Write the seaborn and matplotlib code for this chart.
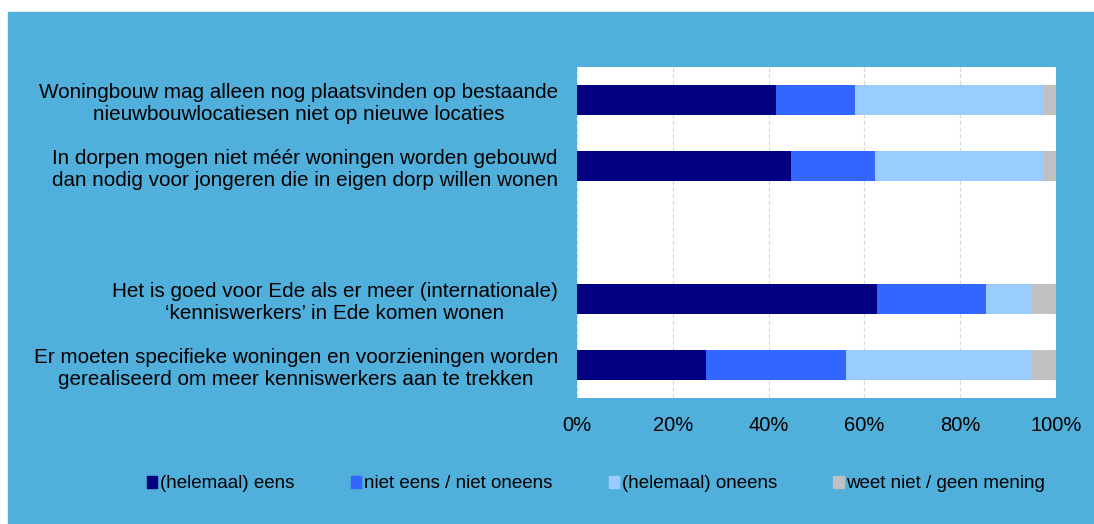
import matplotlib.pyplot as plt
import matplotlib.patches as mpatches
import numpy as np
import pandas as pd
import seaborn as sns

statements = [
    "Woningbouw mag alleen nog plaatsvinden op bestaande\nnieuwbouwlocatiesen niet op nieuwe locaties",
    "In dorpen mogen niet méér woningen worden gebouwd\ndan nodig voor jongeren die in eigen dorp willen wonen",
    "",
    "Het is goed voor Ede als er meer (internationale)\n\u2018kenniswerkers\u2019 in Ede komen wonen",
    "Er moeten specifieke woningen en voorzieningen worden\ngerealiseerd om meer kenniswerkers aan te trekken",
]
series = ["(helemaal) eens", "niet eens / niet oneens", "(helemaal) oneens", "weet niet / geen mening"]
eens = [41.5, 44.6, np.nan, 62.6, 27.0]
neutraal = [16.5, 17.6, np.nan, 22.7, 29.2]
oneens = [39.5, 35.2, np.nan, 9.5, 38.8]
weet_niet = [2.5, 2.6, np.nan, 5.2, 5.0]
colors = ["#000080", "#3366FF", "#99CCFF", "#C0C0C0"]
panel_blue = "#51AFDC"

values = np.array([eens, neutraal, oneens, weet_niet])
cum = np.cumsum(values, axis=0)

sns.set_theme(style="white")
plt.rcParams["font.family"] = ["Liberation Sans", "DejaVu Sans"]
plt.rcParams["text.color"] = "black"
plt.rcParams["xtick.color"] = "black"
plt.rcParams["ytick.color"] = "black"

fig = plt.figure(figsize=(10.94, 5.24), dpi=100, facecolor="white")
fig.patches.append(mpatches.Rectangle((8 / 1094, 0), 1 - 8 / 1094, 1 - 12 / 524,
                                      transform=fig.transFigure, color=panel_blue, zorder=-1))
ax = fig.add_axes([577 / 1094, 1 - 398 / 524, 479 / 1094, 331 / 524])
ax.set_facecolor("white")
ax.set_zorder(2)

# stacked bars: draw cumulative totals from the largest down
for i in range(len(series) - 1, -1, -1):
    df = pd.DataFrame({"stmt": statements, "val": cum[i]})
    df = df.dropna()
    sns.barplot(data=df, x="val", y="stmt", order=statements, color=colors[i],
                width=0.45, ax=ax, saturation=1, edgecolor="none", zorder=3)

ax.set_xlim(0, 100)
ax.set_xticks(np.arange(0, 101, 20))
ax.set_xticklabels([f"{t}%" for t in range(0, 101, 20)], fontsize=14.5)
ax.set_yticks(range(len(statements)))
ax.set_yticklabels(statements, fontsize=14.9)
for lab in ax.get_yticklabels():
    lab.set_multialignment("center")
ax.tick_params(axis="y", length=0, pad=13.7, labelcolor="black")
ax.tick_params(axis="x", length=0, pad=13, labelcolor="black")
ax.set_xlabel("")
ax.set_ylabel("")
ax.xaxis.grid(True, color="#D9D9D9", linewidth=0.8, linestyle=(0, (4, 2)), zorder=0)
ax.set_axisbelow(True)
for s in ax.spines.values():
    s.set_visible(False)

handles = [mpatches.Patch(color=c, label=s) for c, s in zip(colors, series)]
fig.legend(handles=handles, loc="center", bbox_to_anchor=(0.545, 1 - 484 / 524), ncol=4,
           frameon=False, fontsize=13.5, handlelength=0.55, handleheight=0.55,
           handletextpad=0.15, columnspacing=3.0)

fig.savefig("out.png", dpi=100, facecolor="white")
